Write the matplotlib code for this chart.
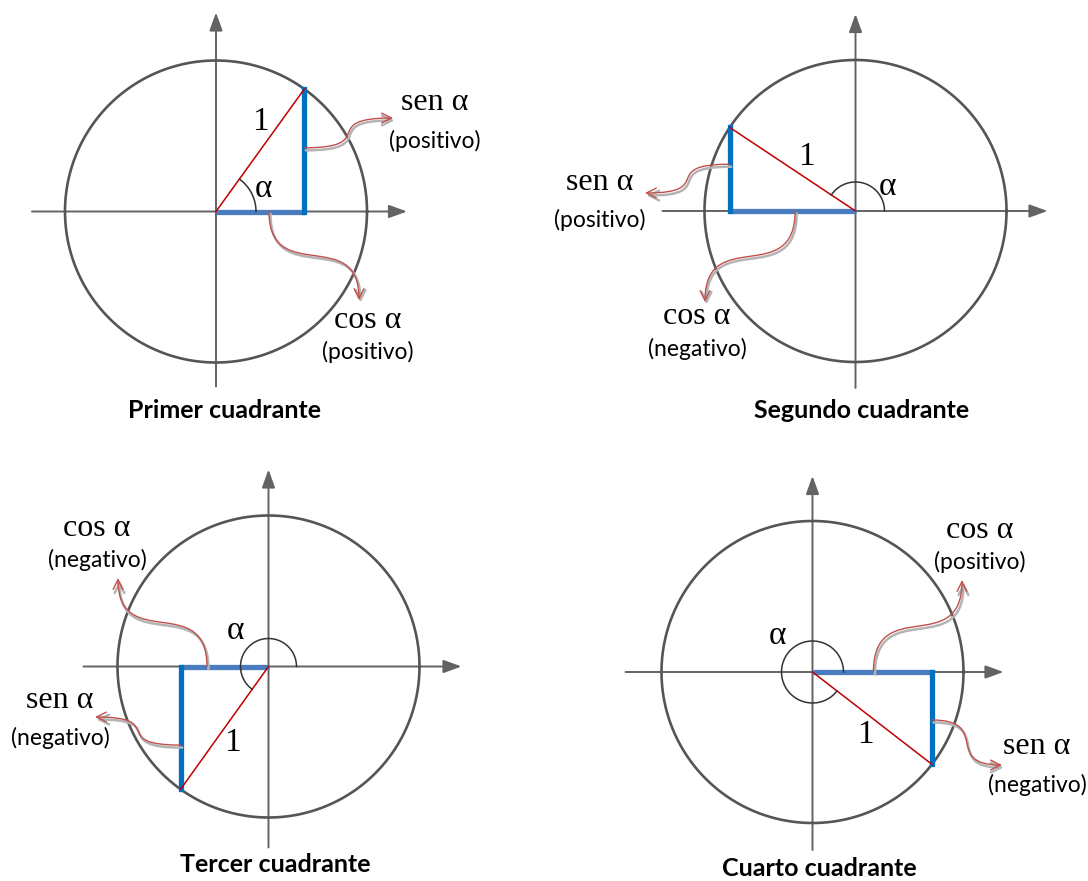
import numpy as np
import matplotlib
matplotlib.use("Agg")
import matplotlib.pyplot as plt
from matplotlib.path import Path
from matplotlib.patches import FancyArrowPatch

# ---------------- data ----------------
titles = ["Primer cuadrante", "Segundo cuadrante", "Tercer cuadrante", "Cuarto cuadrante"]
angles_deg = [54.2, 146.4, 234.4, 322.3]
sen_signs = ["(positivo)", "(positivo)", "(negativo)", "(negativo)"]
cos_signs = ["(positivo)", "(negativo)", "(negativo)", "(positivo)"]
radius_label = "1"
angle_label = "α"
sen_text = "sen α"
cos_text = "cos α"

# ---------------- layout (pixels, y down) ----------------
W, H = 1088, 881
R = 151
centers = [(216, 211.5), (855.5, 211), (268.5, 666.5), (812.5, 672)]
axis_ext = [(184, 191, 199, 175), (193, 192, 197, 177), (185, 193, 197, 181), (187, 191, 196, 178)]
arc_r = [40, 29, 28, 31]
title_pos = [(224, 410), (862, 410), (275, 864), (819, 869)]
one_pos = [(260, 122), (806, 157), (232, 743), (865, 735)]
alpha_pos = [(263, 189), (887, 187), (235, 631), (778, 636)]
sen_pos = [(435, 103), (600, 182), (60, 700), (1037, 747)]
cos_pos = [(368, 320), (697, 317), (97, 528), (980, 530)]
sign_dy = 38
sen_start_frac = [0.52, 0.56, 0.64, 0.52]
cos_start_frac = [0.60, 0.48, 0.70, 0.51]
sen_end = [(393, 118), (645, 193), (95, 717), (1002, 765)]
cos_end = [(359, 300), (705, 302), (118, 578), (962, 580)]

AXIS_C = "#636363"
CIRC_C = "#555555"
COS_C = "#4a7cc0"
SEN_C = "#0070c0"
RAD_C = "#c00000"
ARR_C = "#c0504d"
SHADOW_C = "#b4b4b4"
SERIF = "Liberation Serif"
SANS = "Lato"

fig = plt.figure(figsize=(W / 100, H / 100), dpi=100)
ax = fig.add_axes([0, 0, 1, 1])
ax.set_xlim(0, W)
ax.set_ylim(H, 0)
ax.axis("off")


def s_curve(p0, p1, orient, k=0.85):
    (x0, y0), (x1, y1) = p0, p1
    dx, dy = x1 - x0, y1 - y0
    if orient == "h":
        c1 = (x0 + k * dx, y0)
        c2 = (x1 - k * dx, y1)
    else:
        c1 = (x0, y0 + k * dy)
        c2 = (x1, y1 - k * dy)
    return [p0, c1, c2, p1]


def curvy_arrow(p0, p1, orient):
    pts = s_curve(p0, p1, orient)
    codes = [Path.MOVETO, Path.CURVE4, Path.CURVE4, Path.CURVE4]
    sh = [(x + 1.5, y + 2.5) for x, y in pts]
    ax.add_patch(FancyArrowPatch(path=Path(sh, codes), arrowstyle="->,head_length=0.7,head_width=0.35",
                                 mutation_scale=10, color=SHADOW_C, lw=1.8, zorder=5))
    ax.add_patch(FancyArrowPatch(path=Path(pts, codes), arrowstyle="->,head_length=0.7,head_width=0.35",
                                 mutation_scale=10, color=ARR_C, lw=1.0, zorder=6))


for i in range(4):
    cx, cy = centers[i]
    th = np.deg2rad(angles_deg[i])
    px, py = cx + R * np.cos(th), cy - R * np.sin(th)
    le, ri, up, dn = axis_ext[i]

    # axes
    ax.add_patch(FancyArrowPatch((cx - le, cy), (cx + ri, cy), arrowstyle="-|>,head_length=1.1,head_width=0.4",
                                 mutation_scale=10, color=AXIS_C, lw=1.4, shrinkA=0, shrinkB=0, zorder=1))
    ax.add_patch(FancyArrowPatch((cx, cy + dn), (cx, cy - up), arrowstyle="-|>,head_length=1.1,head_width=0.4",
                                 mutation_scale=10, color=AXIS_C, lw=1.4, shrinkA=0, shrinkB=0, zorder=1))
    # circle
    t = np.linspace(0, 2 * np.pi, 400)
    ax.plot(cx + R * np.cos(t), cy - R * np.sin(t), color=CIRC_C, lw=1.9, zorder=2)

    # cos and sen segments
    ax.plot([cx, px], [cy, cy], color=COS_C, lw=3.8, solid_capstyle="butt", zorder=3)
    ax.plot([px, px], [cy, py], color=SEN_C, lw=3.8, solid_capstyle="projecting", zorder=3)
    # radius
    ax.plot([cx, px], [cy, py], color=RAD_C, lw=1.1, zorder=4)
    # angle arc
    ta = np.linspace(0, th, 200)
    ax.plot(cx + arc_r[i] * np.cos(ta), cy - arc_r[i] * np.sin(ta), color="#333333", lw=1.1, zorder=4)

    # curvy arrows
    s0 = (px, cy + (py - cy) * sen_start_frac[i])
    curvy_arrow(s0, sen_end[i], "h")
    c0 = (cx + (px - cx) * cos_start_frac[i], cy)
    curvy_arrow(c0, cos_end[i], "v")

    # texts
    ax.text(*one_pos[i], radius_label, family=SERIF, fontsize=24, ha="center", va="center", zorder=7)
    ax.text(*alpha_pos[i], angle_label, family=SERIF, fontsize=24, ha="center", va="center", zorder=7)
    ax.text(*sen_pos[i], sen_text, family=SERIF, fontsize=23, ha="center", va="center", zorder=7)
    ax.text(sen_pos[i][0], sen_pos[i][1] + sign_dy, sen_signs[i], family=SANS, fontsize=16.5,
            ha="center", va="center", zorder=7)
    ax.text(*cos_pos[i], cos_text, family=SERIF, fontsize=23, ha="center", va="center", zorder=7)
    ax.text(cos_pos[i][0], cos_pos[i][1] + sign_dy - 6, cos_signs[i], family=SANS, fontsize=16.5,
            ha="center", va="center", zorder=7)
    ax.text(*title_pos[i], titles[i], family=SANS, fontweight="bold", fontsize=18,
            ha="center", va="center", zorder=7)

fig.savefig("out.png", dpi=100, facecolor="white")
